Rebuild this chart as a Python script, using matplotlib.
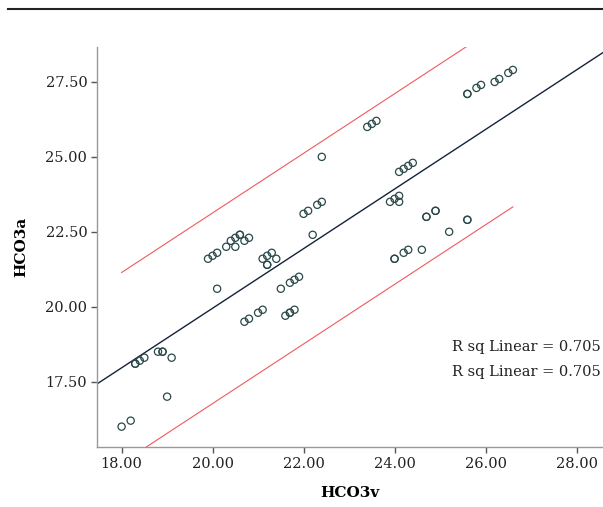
import numpy as np
import matplotlib
matplotlib.use('Agg')
import matplotlib.pyplot as plt
from matplotlib.lines import Line2D

# HCO3 venous vs arterial
hco3v = [18.0, 18.2, 18.3, 18.3, 18.4, 18.5, 18.8, 18.9, 18.9, 19.1, 19.0,
         19.9, 20.0, 20.1, 20.1, 20.3, 20.4, 20.5, 20.5, 20.6, 20.6, 20.7, 20.8,
         20.7, 20.8, 21.0, 21.1, 21.1, 21.2, 21.3, 21.4, 21.2, 21.2,
         21.5, 21.6, 21.7, 21.7, 21.8, 21.7, 21.8, 21.9,
         22.0, 22.1, 22.3, 22.4, 22.2, 22.4,
         23.4, 23.5, 23.6, 23.9, 24.0, 24.1, 24.1,
         24.1, 24.2, 24.3, 24.4, 24.0, 24.0, 24.2, 24.3, 24.6,
         24.7, 24.7, 24.9, 24.9, 25.2, 25.6, 25.6,
         25.6, 25.6, 25.8, 25.9, 26.2, 26.3, 26.5, 26.6]
hco3a = [16.0, 16.2, 18.1, 18.1, 18.2, 18.3, 18.5, 18.5, 18.5, 18.3, 17.0,
         21.6, 21.7, 21.8, 20.6, 22.0, 22.2, 22.0, 22.3, 22.4, 22.4, 22.2, 22.3,
         19.5, 19.6, 19.8, 19.9, 21.6, 21.7, 21.8, 21.6, 21.4, 21.4,
         20.6, 19.7, 19.8, 20.8, 20.9, 19.8, 19.9, 21.0,
         23.1, 23.2, 23.4, 23.5, 22.4, 25.0,
         26.0, 26.1, 26.2, 23.5, 23.6, 23.7, 23.5,
         24.5, 24.6, 24.7, 24.8, 21.6, 21.6, 21.8, 21.9, 21.9,
         23.0, 23.0, 23.2, 23.2, 22.5, 22.9, 22.9,
         27.1, 27.1, 27.3, 27.4, 27.5, 27.6, 27.8, 27.9]

fit_intercept = 0.07
fit_slope = 0.994
pi_half = 3.18
r_sq = 0.705

x_ticks = [18, 20, 22, 24, 26, 28]
y_ticks = [17.5, 20.0, 22.5, 25.0, 27.5]

plt.rcParams['font.family'] = ['DejaVu Serif']

fig = plt.figure(figsize=(6.03, 5.07), dpi=100)
ax = fig.add_axes([0.1609, 0.1183, 0.839, 0.7887])

xlo, xhi = 17.46, 28.58
ylo, yhi = 15.32, 28.66

# fit line across the whole plot
xf = np.array([xlo, xhi])
ax.plot(xf, fit_intercept + fit_slope * xf, color='#14233a', lw=1.0, zorder=2)

# prediction interval over the data range
xr = np.linspace(min(hco3v), max(hco3v), 50)
yr = fit_intercept + fit_slope * xr
ax.plot(xr, yr + pi_half, color='#f05a5a', lw=0.8, zorder=2)
ax.plot(xr, yr - pi_half, color='#f05a5a', lw=0.8, zorder=2)

ax.scatter(hco3v, hco3a, s=27, facecolors='none', edgecolors='#2a4848',
           linewidths=0.9, zorder=3)

ax.set_xlim(xlo, xhi)
ax.set_ylim(ylo, yhi)
ax.set_xticks(x_ticks)
ax.set_xticklabels([f'{v:.2f}' for v in x_ticks])
ax.set_yticks(y_ticks)
ax.set_yticklabels([f'{v:.2f}' for v in y_ticks])

for s in ['top', 'right']:
    ax.spines[s].set_visible(False)
for s in ['left', 'bottom']:
    ax.spines[s].set_color('#999999')
    ax.spines[s].set_linewidth(1.0)
ax.tick_params(direction='out', length=4, width=1, color='#555555',
               labelsize=10.5, labelcolor='#222222', pad=3)

ax.set_xlabel('HCO3v', fontsize=11, fontweight='bold', labelpad=11)
ax.set_ylabel('HCO3a', fontsize=11, fontweight='bold', labelpad=12)

ax.text(0.995, 0.249, f'R sq Linear = {r_sq}', transform=ax.transAxes,
        ha='right', va='center', fontsize=10.5, color='#222222')
ax.text(0.995, 0.187, f'R sq Linear = {r_sq}', transform=ax.transAxes,
        ha='right', va='center', fontsize=10.5, color='#222222')

# rule across the top
fig.add_artist(Line2D([8 / 603, 1.0], [1 - 9 / 507, 1 - 9 / 507],
                      transform=fig.transFigure, color='#222222', lw=1.5))

fig.savefig('out.png', dpi=100)
